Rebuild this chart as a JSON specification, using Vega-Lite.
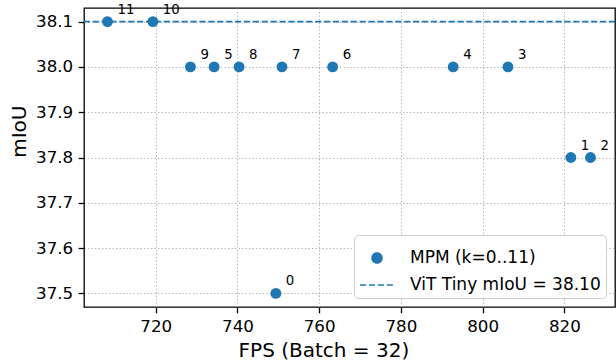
{
  "$schema": "https://vega.github.io/schema/vega-lite/v6.json",
  "autosize": {"type": "none"},
  "width": 531,
  "height": 299,
  "padding": {"left": 84, "top": 8, "right": 1, "bottom": 53},
  "background": "white",
  "config": {
    "font": "DejaVu Sans",
    "view": {"stroke": "#000000", "strokeWidth": 1.3},
    "axis": {
      "labelFont": "DejaVu Sans",
      "labelFontSize": 16.7,
      "labelColor": "#000000",
      "titleFont": "DejaVu Sans",
      "titleFontSize": 20,
      "titleFontWeight": "normal",
      "titleColor": "#000000",
      "tickColor": "#000000",
      "tickSize": 5.8,
      "tickWidth": 1.3,
      "labelPadding": 5.5,
      "domain": false,
      "grid": true,
      "gridColor": "#b0b0b0",
      "gridWidth": 1,
      "gridDash": [1.3, 2.2]
    },
    "legend": {
      "labelFont": "DejaVu Sans",
      "labelFontSize": 17,
      "labelColor": "#000000",
      "labelLimit": 400
    }
  },
  "datasets": {
    "mpm": [
      {"k": "0", "fps": 749.4, "miou": 37.5},
      {"k": "1", "fps": 821.6, "miou": 37.8},
      {"k": "2", "fps": 826.4, "miou": 37.8},
      {"k": "3", "fps": 806.2, "miou": 38.0},
      {"k": "4", "fps": 792.8, "miou": 38.0},
      {"k": "5", "fps": 734.3, "miou": 38.0},
      {"k": "6", "fps": 763.3, "miou": 38.0},
      {"k": "7", "fps": 750.9, "miou": 38.0},
      {"k": "8", "fps": 740.4, "miou": 38.0},
      {"k": "9", "fps": 728.5, "miou": 38.0},
      {"k": "10", "fps": 719.3, "miou": 38.1},
      {"k": "11", "fps": 708.2, "miou": 38.1}
    ],
    "baseline": [
      {"miou": 38.1}
    ]
  },
  "layer": [
    {
      "data": {"name": "baseline"},
      "mark": {"type": "rule", "strokeDash": [6.2, 2.7], "strokeWidth": 1.7},
      "encoding": {
        "y": {"field": "miou", "type": "quantitative", "scale": {"domain": [37.47, 38.13], "nice": false, "zero": false}},
        "color": {
          "datum": "ViT Tiny mIoU = 38.10",
          "scale": {"domain": ["MPM (k=0..11)", "ViT Tiny mIoU = 38.10"], "range": ["#1f77b4", "#1f77b4"]},
          "legend": {
            "title": null,
            "orient": "bottom-right",
            "offset": 9,
            "padding": 5,
            "fillColor": "#ffffff",
            "strokeColor": "#cccccc",
            "cornerRadius": 4,
            "symbolSize": 1156,
            "symbolType": "circle",
            "labelOffset": 15,
            "rowPadding": -9,
            "encode": {
              "symbols": {
                "update": {
                  "shape": {"signal": "datum.value === 'MPM (k=0..11)' ? 'M-0.29,0A0.29,0.29,0,1,1,0.29,0A0.29,0.29,0,1,1,-0.29,0Z' : 'stroke'"},
                  "size": {"value": 1156},
                  "strokeDash": {"signal": "datum.value === 'MPM (k=0..11)' ? [1, 0] : [6.2, 2.7]"},
                  "strokeWidth": {"value": 1.7},
                  "fill": {"value": "#1f77b4"},
                  "stroke": {"value": "#1f77b4"},
                  "opacity": {"value": 1}
                }
              }
            }
          }
        }
      }
    },
    {
      "data": {"name": "mpm"},
      "mark": {"type": "point", "filled": true, "opacity": 1, "size": 118},
      "encoding": {
        "x": {
          "field": "fps", "type": "quantitative",
          "scale": {"domain": [702.45, 832.4], "nice": false, "zero": false},
          "axis": {"values": [720, 740, 760, 780, 800, 820], "title": "FPS (Batch = 32)", "titleX": 239.4, "titleY": 49, "titleAlign": "center", "titleBaseline": "alphabetic"}
        },
        "y": {
          "field": "miou", "type": "quantitative",
          "scale": {"domain": [37.47, 38.13], "nice": false, "zero": false},
          "axis": {"values": [37.5, 37.6, 37.7, 37.8, 37.9, 38.0, 38.1], "format": ".1f", "title": "mIoU", "titleX": -65, "titleY": 149.3, "titleAngle": 270, "titleAlign": "left", "titleBaseline": "middle"}
        },
        "color": {
          "datum": "MPM (k=0..11)",
          "legend": {
            "title": null,
            "orient": "bottom-right",
            "offset": 9,
            "padding": 5,
            "fillColor": "#ffffff",
            "strokeColor": "#cccccc",
            "cornerRadius": 4,
            "symbolSize": 1156,
            "symbolType": "circle",
            "labelOffset": 15,
            "rowPadding": -9,
            "encode": {
              "symbols": {
                "update": {
                  "shape": {"signal": "datum.value === 'MPM (k=0..11)' ? 'M-0.29,0A0.29,0.29,0,1,1,0.29,0A0.29,0.29,0,1,1,-0.29,0Z' : 'stroke'"},
                  "size": {"value": 1156},
                  "strokeDash": {"signal": "datum.value === 'MPM (k=0..11)' ? [1, 0] : [6.2, 2.7]"},
                  "strokeWidth": {"value": 1.7},
                  "fill": {"value": "#1f77b4"},
                  "stroke": {"value": "#1f77b4"},
                  "opacity": {"value": 1}
                }
              }
            }
          }
        }
      }
    },
    {
      "data": {"name": "mpm"},
      "mark": {"type": "text", "align": "left", "baseline": "alphabetic", "dx": 10, "dy": -8, "fontSize": 13.3, "font": "DejaVu Sans", "color": "#000000"},
      "encoding": {
        "x": {"field": "fps", "type": "quantitative"},
        "y": {"field": "miou", "type": "quantitative"},
        "text": {"field": "k", "type": "nominal"}
      }
    }
  ]
}
